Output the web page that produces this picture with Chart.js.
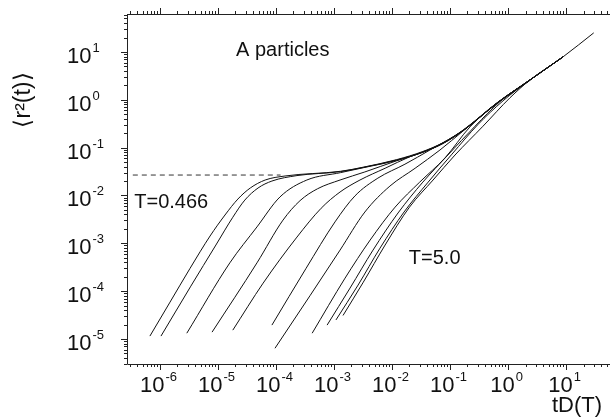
<!DOCTYPE html>
<html lang="en">
<head>
<meta charset="UTF-8">
<title>A particles - MSD</title>
<script src="https://cdn.jsdelivr.net/npm/chart.js@4.4.0/dist/chart.umd.min.js"></script>
<style>
  body { margin: 0; padding: 0; background: #fff; }
  #wrap { width: 610px; height: 419px; }
</style>
</head>
<body>
<div id="wrap"><canvas id="msd" width="610" height="419"></canvas></div>
<script>
// [tD(T), <r^2(t)>] pairs, lowest T first
const curve1 = [[6.7e-7,1.15e-5],[1.49e-6,5.9e-5],[3.3e-6,3.0e-4],[7.3e-6,1.42e-3],[1.32e-5,3.9e-3],[2.2e-5,8.4e-3],[3.6e-5,0.0143],[6.5e-5,0.021],[1.43e-4,0.0255],[1.3e-3,0.032],[3.2e-3,0.039],[1.2e-2,0.056],[3.4e-2,0.083],[7.6e-2,0.127],[0.17,0.235],[0.65,0.87],[2.4,2.6]];
const curve2 = [[1.04e-6,1.15e-5],[3.4e-6,1.27e-4],[9.2e-6,9.2e-4],[1.8e-5,3.5e-3],[2.9e-5,8.0e-3],[4.9e-5,0.0143],[8.5e-5,0.020],[2.3e-4,0.026],[1.3e-3,0.0315],[3.2e-3,0.0385],[1.2e-2,0.055],[3.4e-2,0.081],[7.6e-2,0.124],[0.17,0.23],[0.65,0.85],[2.4,2.55]];
const curve3 = [[2.9e-6,1.32e-5],[1.6e-5,3.9e-4],[4.7e-5,2.2e-3],[1.17e-4,9.3e-3],[3.4e-4,0.021],[1.3e-3,0.030],[3.2e-3,0.038],[1.2e-2,0.054],[3.4e-2,0.080],[7.6e-2,0.122],[0.17,0.228],[0.65,0.85],[2.4,2.6]];
const curve4 = [[7.9e-6,1.39e-5],[4.7e-5,3.9e-4],[1.32e-4,3.05e-3],[2.6e-4,7.8e-3],[5.2e-4,0.0138],[1.27e-3,0.021],[3.4e-3,0.031],[1.2e-2,0.053],[3.4e-2,0.080],[7.6e-2,0.123],[0.17,0.23],[0.65,0.86],[2.4,2.6],[8.9,7.9]];
const curve5 = [[1.8e-5,1.53e-5],[6.0e-5,1.47e-4],[2.3e-4,1.35e-3],[6.0e-4,5.4e-3],[1.27e-3,0.0118],[2.8e-3,0.021],[7.6e-3,0.037],[0.020,0.064],[3.4e-2,0.081],[7.6e-2,0.125],[0.17,0.232],[0.65,0.86],[2.4,2.62],[8.9,7.9]];
const curve6 = [[8.5e-5,1.95e-5],[3.3e-4,3.0e-4],[1.04e-3,2.8e-3],[2.3e-3,0.0098],[5.7e-3,0.023],[0.0167,0.045],[0.045,0.089],[0.17,0.23],[0.65,0.86],[2.4,2.6],[8.9,7.9]];
const curve7 = [[9.6e-5,6.4e-6],[3.9e-4,8.2e-5],[1.27e-3,7.2e-4],[3.4e-3,4.5e-3],[9.2e-3,0.0157],[0.025,0.037],[0.067,0.089],[0.17,0.225],[0.65,0.85],[2.4,2.6],[8.9,7.9]];
const curve8 = [[4.2e-4,1.32e-5],[1.55e-3,1.87e-4],[4.2e-3,1.17e-3],[0.0113,5.7e-3],[0.030,0.019],[0.082,0.061],[0.22,0.27],[0.65,0.86],[2.4,2.6],[8.9,7.9]];
const curve9 = [[7.6e-4,1.95e-5],[1.89e-3,1.16e-4],[4.7e-3,7.2e-4],[0.0127,4.3e-3],[0.034,0.019],[0.092,0.070],[0.27,0.28],[0.73,0.92],[2.4,2.6],[8.9,7.9]];
const curve10 = [[1.08e-3,2.5e-5],[2.6e-3,1.34e-4],[6.2e-3,7.9e-4],[0.0161,4.5e-3],[0.042,0.019],[0.108,0.073],[0.30,0.30],[0.82,0.95],[2.4,2.6],[8.9,7.9]];
const curve11 = [[1.43e-3,3.1e-5],[3.2e-3,1.54e-4],[7.6e-3,9.2e-4],[0.020,5.7e-3],[0.051,0.021],[0.122,0.070],[0.37,0.28],[1.08,1.1],[2.4,2.6],[8.9,7.9],[30,25]];
// plateau guide
const plateau = [[3.4e-7,0.0267],[1.2e-4,0.0267]];

const curves = [curve1, curve2, curve3, curve4, curve5, curve6, curve7, curve8, curve9, curve10, curve11];

// axes
const xMin = 2.7e-7, xMax = 55;
const yMin = 3.0e-6, yMax = 62;
const xLabelExps = [-6, -5, -4, -3, -2, -1, 0, 1];
const yLabelExps = [1, 0, -1, -2, -3, -4, -5];
const tickDecades = [-7, -6, -5, -4, -3, -2, -1, 0, 1];
const minorSteps = [1, 2, 3, 4, 5, 6, 7, 8, 9];

const notes = [
  { text: 'A particles', x: 0.0000205, y: 10.5 },
  { text: 'T=0.466', x: 3.6e-7, y: 0.0071 },
  { text: 'T=5.0', x: 0.0195, y: 0.00047 }
];

const FONT = '"Liberation Sans", Arial, Helvetica, sans-serif';

function toXY(arr) {
  return arr.map(p => ({ x: p[0], y: p[1] }));
}

const datasets = curves.map(c => ({
  data: toXY(c),
  showLine: true,
  pointRadius: 0,
  borderColor: '#111',
  borderWidth: 1,
  cubicInterpolationMode: 'monotone'
}));
datasets.push({
  data: toXY(plateau),
  showLine: true,
  pointRadius: 0,
  borderColor: '#333',
  borderWidth: 1,
  borderDash: [5, 4]
});

// frame, log ticks, 10^n labels and text
const framePlugin = {
  id: 'frame',
  afterDraw(chart) {
    const ctx = chart.ctx;
    const xs = chart.scales.x, ys = chart.scales.y;
    const a = chart.chartArea;
    ctx.save();
    ctx.strokeStyle = '#222';
    ctx.lineWidth = 1;
    ctx.beginPath();
    ctx.moveTo(a.left + 0.5, a.top + 0.5);
    ctx.lineTo(a.right + 5, a.top + 0.5);
    ctx.moveTo(a.left + 0.5, a.top);
    ctx.lineTo(a.left + 0.5, a.bottom + 0.5);
    ctx.lineTo(a.right + 5, a.bottom + 0.5);

    tickDecades.forEach(d => {
      minorSteps.forEach(m => {
        const v = m * Math.pow(10, d);
        const len = m === 1 ? 6 : 3;
        if (v >= xMin && v <= xMax) {
          const px = Math.round(xs.getPixelForValue(v)) + 0.5;
          ctx.moveTo(px, a.bottom);
          ctx.lineTo(px, a.bottom + len);
          ctx.moveTo(px, a.top);
          ctx.lineTo(px, a.top - len);
        }
        if (v >= yMin && v <= yMax) {
          const py = Math.round(ys.getPixelForValue(v)) + 0.5;
          ctx.moveTo(a.left, py);
          ctx.lineTo(a.left - len, py);
        }
      });
    });
    ctx.stroke();

    ctx.fillStyle = '#111';
    ctx.textBaseline = 'alphabetic';
    const big = '22px ' + FONT, small = '13px ' + FONT;

    xLabelExps.forEach(e => {
      const px = xs.getPixelForValue(Math.pow(10, e));
      ctx.font = big;
      const w1 = ctx.measureText('10').width;
      ctx.font = small;
      const w2 = ctx.measureText(String(e)).width;
      const x0 = px - (w1 + w2) / 2 - 2;
      ctx.font = big;
      ctx.fillText('10', x0, 392);
      ctx.font = small;
      ctx.fillText(String(e), x0 + w1 + 1, 381);
    });

    yLabelExps.forEach(e => {
      const py = ys.getPixelForValue(Math.pow(10, e));
      ctx.font = big;
      const w1 = ctx.measureText('10').width;
      ctx.fillText('10', 67, py + 11);
      ctx.font = small;
      ctx.fillText(String(e), 67 + w1 + 1, py);
    });

    ctx.font = '20px ' + FONT;
    ctx.textBaseline = 'middle';
    notes.forEach(n => {
      ctx.fillText(n.text, xs.getPixelForValue(n.x), ys.getPixelForValue(n.y));
    });

    ctx.font = '22px ' + FONT;
    ctx.textAlign = 'right';
    ctx.fillText('tD(T)', 602, 406);

    ctx.translate(24, 100);
    ctx.rotate(-Math.PI / 2);
    ctx.textAlign = 'center';
    ctx.font = '23px ' + FONT;
    ctx.fillText('\u27E8r\u00B2(t)\u27E9', 0, 0);
    ctx.restore();
  }
};

new Chart(document.getElementById('msd'), {
  type: 'scatter',
  data: { datasets: datasets },
  options: {
    responsive: false,
    animation: false,
    layout: { padding: { left: 127, top: 14, right: 1, bottom: 55 } },
    plugins: { legend: { display: false }, tooltip: { enabled: false } },
    scales: {
      x: { type: 'logarithmic', min: xMin, max: xMax, display: false },
      y: { type: 'logarithmic', min: yMin, max: yMax, display: false }
    }
  },
  plugins: [framePlugin]
});
</script>
</body>
</html>
